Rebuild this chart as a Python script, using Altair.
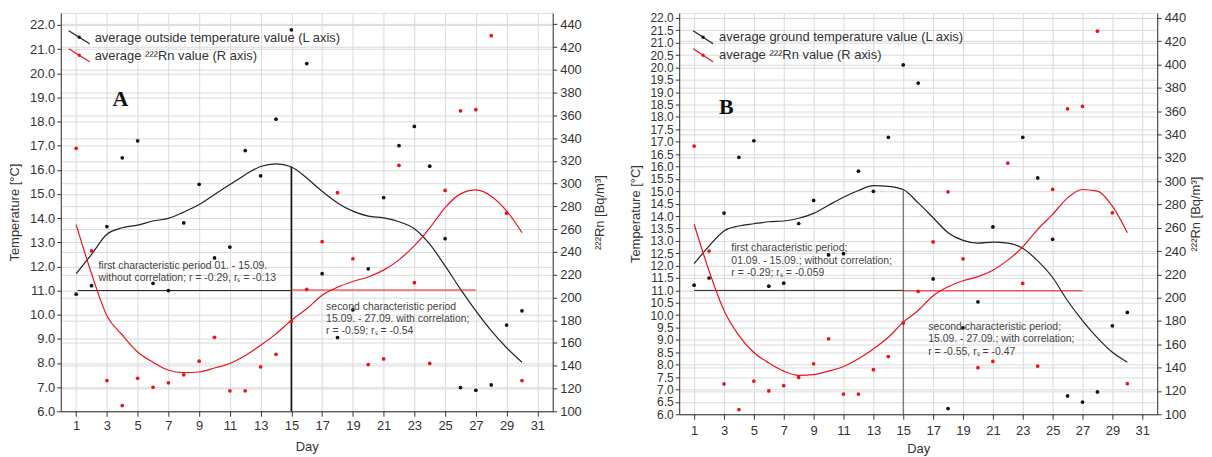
import altair as alt
import pandas as pd

DAYS = list(range(1, 31))

# ---------------- Panel A (outside temperature) ----------------
A_TEMP = [10.85, 11.2, 13.65, 16.5, 17.2, 11.3, 11.0, 13.8, 15.4, 12.35,
          12.8, 16.8, 15.75, 18.1, 21.8, 20.4, 11.7, 9.05, 10.2, 11.9,
          14.85, 17.0, 17.8, 16.15, 13.15, 6.98, 6.87, 7.09, 9.57, 10.16]
A_RN = [331, 241, 127, 105, 129, 121, 125, 132, 144, 165,
        118, 118, 139, 150, 179, 207, 249, 292, 234, 141,
        146, 316, 213, 142, 294, 364, 365, 430, 274, 127]
A_TEMP_FIT = [11.7, 12.5, 13.33, 13.6, 13.71, 13.88, 13.99, 14.25, 14.56, 14.98,
              15.39, 15.8, 16.14, 16.25, 16.12, 15.66, 15.11, 14.63, 14.29, 14.08,
              14.01, 13.85, 13.56, 12.92, 12.02, 11.06, 10.16, 9.34, 8.63, 8.03]
A_RN_FIT = [264, 221, 184, 167, 152, 143, 136, 134, 134.5, 138,
            142, 149, 158, 168, 180, 190, 202, 209, 214, 218,
            224, 233, 245.5, 261, 279, 291, 294.5, 289, 276, 257]

# ---------------- Panel B (ground temperature) ----------------
B_TEMP = [11.21, 11.5, 14.12, 16.37, 17.04, 11.17, 11.29, 13.7, 14.63, 12.43,
          12.48, 15.81, 15.0, 17.18, 20.1, 19.37, 11.46, 6.23, 9.49, 10.54,
          13.56, None, 17.18, 15.54, 13.06, 6.74, 6.49, 6.9, 9.57, 10.11]
B_RN = [330, 240, 126, 104, 128.5, 120, 124.5, 131.6, 143.3, 164.7,
        117.3, 117.3, 138.2, 149.5, 178.3, 205.3, 247.8, 290.8, 233.3, 139.9,
        145.3, 315.5, 212.2, 141.3, 292.8, 362, 364, 428.6, 272.8, 126.2]
B_TEMP_FIT = [12.08, 12.79, 13.4, 13.6, 13.69, 13.77, 13.8, 13.91, 14.11, 14.44,
              14.76, 15.03, 15.23, 15.2, 15.07, 14.53, 13.93, 13.33, 13.02, 12.91,
              12.95, 12.91, 12.7, 12.19, 11.52, 10.58, 9.78, 9.08, 8.5, 8.1]
B_RN_FIT = [263, 223, 189, 167.5, 153, 144, 137, 133.3, 134, 137,
            141, 147.6, 156, 166, 179, 189, 201.7, 209.4, 214.5, 218,
            223.6, 232.2, 243.5, 258.6, 271.5, 285.6, 292.8, 291.4, 278.5, 255.7]

X_TICKS = list(range(1, 32, 2))
RN_TICKS = list(range(100, 441, 20))
A_T_TICKS = [float(v) for v in range(6, 23)]
B_T_TICKS = [6 + 0.5 * i for i in range(33)]

FONT = "Liberation Sans"
GRID = "#dadada"
INK = "#333333"
RED = "#e8141b"


def panel(temp, rn, tfit, rfit, tdom, tticks, tlabel_size, rdom, width, height,
          legend_label, letter, letter_pos, ann, hline_t, hline_r, vline, vcolor, vwidth, leg,
          xlab_pad, xtitle_pad, rtitle_pad):
    df = pd.DataFrame({"day": DAYS, "temp": temp, "rn": rn, "tfit": tfit, "rfit": rfit})
    base = alt.Chart(df)

    def xf(field):
        return alt.X(f"{field}:Q", scale=alt.Scale(domain=[0, 32], nice=False, zero=False),
                     axis=alt.Axis(values=X_TICKS, title="Day", grid=True, gridColor=GRID,
                                   labelFontSize=13, titleFontSize=13, labelColor=INK, titleColor=INK,
                                   titleFontWeight="normal", tickSize=5, tickColor=INK,
                                   domainColor=INK, labelPadding=xlab_pad, titlePadding=xtitle_pad,
                                   labelFont=FONT, titleFont=FONT))

    def yt(field):
        return alt.Y(f"{field}:Q", scale=alt.Scale(domain=tdom, nice=False, zero=False),
                     axis=alt.Axis(values=tticks, format=".1f", title="Temperature [°C]",
                                   grid=True, gridColor=GRID, labelFontSize=tlabel_size,
                                   titleFontSize=13, labelColor=INK, titleColor=INK,
                                   titleFontWeight="normal", tickSize=4, tickColor=INK,
                                   domainColor=INK, labelPadding=2, titlePadding=8,
                                   labelOverlap=False, labelFont=FONT, titleFont=FONT))

    def yr(field):
        return alt.Y(f"{field}:Q", scale=alt.Scale(domain=rdom, nice=False, zero=False),
                     axis=alt.Axis(values=RN_TICKS, orient="right", title="²²²Rn [Bq/m³]",
                                   titleAngle=270, grid=True, gridColor=GRID, labelFontSize=13,
                                   titleFontSize=13, labelColor=INK, titleColor=INK,
                                   titleFontWeight="normal", tickSize=4, tickColor=INK,
                                   domainColor=INK, labelPadding=3, titlePadding=rtitle_pad,
                                   labelOverlap=False, labelFont=FONT, titleFont=FONT))

    t_pts = base.mark_circle(size=14, color="#111111", opacity=1).encode(x=xf("day"), y=yt("temp"))
    t_fit = base.mark_line(color="#222222", strokeWidth=1.2, interpolate="monotone").encode(
        x=xf("day"), y=yt("tfit"))

    hl_t = alt.Chart(pd.DataFrame({"d0": [hline_t[0]], "d1": [hline_t[1]], "v": [hline_t[2]]})).mark_rule(
        color="#222222", strokeWidth=1).encode(x=xf("d0"), x2="d1:Q", y=yt("v"))
    vl = alt.Chart(pd.DataFrame({"d": [vline[0]], "v0": [vline[1]], "v1": [vline[2]]})).mark_rule(
        color=vcolor, strokeWidth=vwidth).encode(x=xf("d"), y=yt("v0"), y2="v1:Q")

    ann_df = pd.DataFrame(ann, columns=["d", "v", "label"])
    ann_txt = alt.Chart(ann_df).mark_text(align="left", baseline="middle", fontSize=10.5,
                                          font=FONT, color="#444444").encode(
        x=xf("d"), y=yt("v"), text="label:N")

    let = alt.Chart(pd.DataFrame({"d": [letter_pos[0]], "v": [letter_pos[1]], "label": [letter]})).mark_text(
        font="Liberation Serif", fontWeight="bold", fontSize=22, color="#111111",
        align="center", baseline="middle").encode(x=xf("d"), y=yt("v"), text="label:N")

    one = alt.Chart(pd.DataFrame({"k": [0]}))
    lx0, lx1, ly0, ly1, tx, ty, dy = leg
    leg_layers = [
        one.mark_rule(color="#222222", strokeWidth=1.2).encode(
            x=alt.value(lx0), x2=alt.value(lx1), y=alt.value(ly0), y2=alt.value(ly1)),
        one.mark_circle(color="#111111", size=12, opacity=1).encode(
            x=alt.value((lx0 + lx1) / 2), y=alt.value((ly0 + ly1) / 2)),
        one.mark_text(text=legend_label, align="left", baseline="middle", fontSize=13,
                      font=FONT, color=INK).encode(x=alt.value(tx), y=alt.value(ty)),
        one.mark_rule(color=RED, strokeWidth=1.2).encode(
            x=alt.value(lx0), x2=alt.value(lx1), y=alt.value(ly0 + dy), y2=alt.value(ly1 + dy)),
        one.mark_circle(color=RED, size=12, opacity=1).encode(
            x=alt.value((lx0 + lx1) / 2), y=alt.value((ly0 + ly1) / 2 + dy)),
        one.mark_text(text="average ²²²Rn value (R axis)", align="left", baseline="middle",
                      fontSize=13, font=FONT, color=INK).encode(x=alt.value(tx), y=alt.value(ty + dy)),
    ]

    temp_layer = alt.layer(t_fit, hl_t, vl, t_pts, ann_txt, let, *leg_layers)

    r_pts = base.mark_circle(size=14, color=RED, opacity=1).encode(x=xf("day"), y=yr("rn"))
    r_fit = base.mark_line(color=RED, strokeWidth=1.2, interpolate="monotone").encode(
        x=xf("day"), y=yr("rfit"))
    hl_r = alt.Chart(pd.DataFrame({"d0": [hline_r[0]], "d1": [hline_r[1]], "v": [hline_r[2]]})).mark_rule(
        color=RED, strokeWidth=1).encode(x=xf("d0"), x2="d1:Q", y=yr("v"))
    rn_layer = alt.layer(r_fit, hl_r, r_pts)

    return alt.layer(temp_layer, rn_layer).resolve_scale(y="independent").properties(
        width=width, height=height)


A_ANN = [
    (2.45, 12.02, "first characteristic period 01. - 15.09."),
    (2.45, 11.51, "without correlation; r = -0.29, rₛ = -0.13"),
    (17.26, 10.33, "second characteristic period"),
    (17.26, 9.81, "15.09. - 27.09. with correlation;"),
    (17.26, 9.34, "r = -0.59; rₛ = -0.54"),
]
B_ANN = [
    (3.49, 12.70, "first characteristic period;"),
    (3.49, 12.19, "01.09. - 15.09.; without correlation;"),
    (3.49, 11.71, "r = -0.29; rₛ = -0.059"),
    (16.67, 9.54, "second characteristic period;"),
    (16.67, 9.03, "15.09. - 27.09.; with correlation;"),
    (16.67, 8.53, "r = -0.55, rₛ = -0.47"),
]

chart_a = panel(A_TEMP, A_RN, A_TEMP_FIT, A_RN_FIT, [6, 22.5], A_T_TICKS, 13, [100, 450], 494, 400,
                "average outside temperature value (L axis)", "A", (3.88, 18.95), A_ANN,
                (1.1, 15, 11.0), (15, 27, 206.5), (15, 6, 16.12), "#111111", 1.6,
                (8, 29, 18, 31, 34, 25, 18), 3, 8, 25)
chart_b = panel(B_TEMP, B_RN, B_TEMP_FIT, B_RN_FIT, [6, 22.2], B_T_TICKS, 12, [100, 444.25], 480, 403,
                "average ground temperature value (L axis)", "B", (3.16, 18.42), B_ANN,
                (1.0, 15, 11.0), (15, 27, 205.9), (15, 6, 15.07), "#555555", 1.0,
                (14, 34, 18, 31, 40, 24, 18), 5, 5, 17)

chart = alt.hconcat(chart_a, chart_b, spacing=21).properties(
    padding={"left": 0, "top": 2, "right": 0, "bottom": 0}
).configure_view(stroke="#222222", strokeWidth=1).configure(font=FONT)

chart.save("out.html", embed_options={"renderer": "svg", "actions": False})
